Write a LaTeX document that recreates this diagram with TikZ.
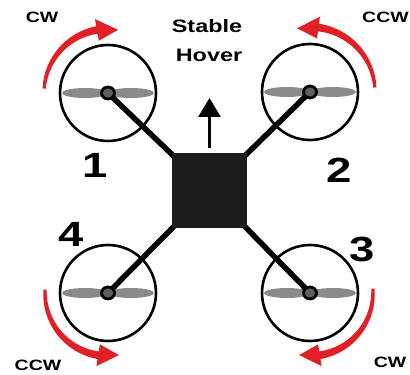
\documentclass[tikz,border=0pt]{standalone}
\usepackage{fontspec}
\setmainfont{Liberation Sans}
\newfontfamily\labelfont{Liberation Sans}[FakeStretch=1.3]
\usetikzlibrary{arrows.meta}

\definecolor{spinred}{RGB}{226,30,38}
\definecolor{bladegray}{RGB}{138,138,138}
\definecolor{hubgray}{RGB}{95,95,95}
\definecolor{bodyblack}{RGB}{30,28,28}

% curved rotation arrow around a rotor: centre x, centre y, radius, start angle, end angle
\newcommand\spinarc[5]{%
  \pgfmathsetmacro\spinsgn{sign(#5-#4)}%
  \fill[spinred]
    plot[domain=#4:#5, samples=40]
      ({#1+(#3+1.6+2.3*(\x-#4)/(#5-#4))*cos(\x)}, {#2+(#3+1.6+2.3*(\x-#4)/(#5-#4))*sin(\x)})
    -- plot[domain=#5:#4, samples=40]
      ({#1+(#3-1.6-2.3*(\x-#4)/(#5-#4))*cos(\x)}, {#2+(#3-1.6-2.3*(\x-#4)/(#5-#4))*sin(\x)})
    -- cycle;
  \pgfmathsetmacro\spintip{#5+\spinsgn*18}%
  \fill[spinred]
    ({#1+(#3+11)*cos(#5-\spinsgn*1)}, {#2+(#3+11)*sin(#5-\spinsgn*1)})
    -- ({#1+#3*cos(\spintip)}, {#2+#3*sin(\spintip)})
    -- ({#1+(#3-11)*cos(#5-\spinsgn*1)}, {#2+(#3-11)*sin(#5-\spinsgn*1)})
    -- cycle;
}

\begin{document}
\begin{tikzpicture}[x=1pt,y=1pt,
  rim/.style={draw=black, line width=2.6pt},
  blade/.style={fill=bladegray},
  arm/.style={draw=black, line width=5.5pt},
  hubring/.style={draw=black, line width=2.8pt, fill=hubgray},
  dirlabel/.style={font=\labelfont\bfseries\fontsize{15}{15}\selectfont, inner sep=0pt},
  numlabel/.style={font=\labelfont\bfseries\fontsize{35}{35}\selectfont, inner sep=0pt},
  titlelabel/.style={font=\labelfont\bfseries\fontsize{18}{18}\selectfont, inner sep=0pt, anchor=base},
  lift/.style={draw=black, line width=3pt, -{Triangle[length=19pt,width=22pt]}}
]
\useasboundingbox[fill=white] (0,0) rectangle (410,375);

% rotor hubs
\coordinate (h1) at (108,282);
\coordinate (h2) at (310,283);
\coordinate (h3) at (310,82);
\coordinate (h4) at (108,82);

% central body (filled after the arms)
\path node[minimum size=75pt, inner sep=0pt] (body) at (209.5,184.5) {};

% rotor guards and propeller blades
\foreach \h in {h1,h2,h3,h4} {
  \draw[rim] (\h) circle (48);
  \begin{scope}[shift={(\h)}]
    \fill[blade] (-23,0) ellipse (23 and 5);
    \fill[blade] (23,0) ellipse (23 and 5);
  \end{scope}
}

% arms
\foreach \h in {h1,h2,h3,h4} \draw[arm] (\h) -- (body.center);

% hubs
\foreach \h in {h1,h2,h3,h4} \draw[hubring] (\h) ellipse (6.5 and 6);

% body
\fill[bodyblack] (body.north west) rectangle (body.south east);

% thrust arrow
\coordinate (up) at (209.5,277);
\draw[lift, shorten <=5pt] (body.north) -- (up);

% rotation arrows
\spinarc{108}{282}{64}{176}{99}
\spinarc{310}{283}{65}{4}{83.5}
\spinarc{108}{82}{63}{177}{262}
\spinarc{310}{82}{63}{4}{-82}

% labels
\node[titlelabel] (stable) at (207,342) {Stable};
\node[titlelabel] (hover) at (209,313) {Hover};

\node[dirlabel] (cw1) at (42,357.5) {CW};
\node[dirlabel, anchor=east] (ccw2) at (409,357.5) {CCW};
\node[dirlabel] (ccw4) at (38,10) {CCW};
\node[dirlabel] (cw3) at (390,13) {CW};

\node[numlabel] (n1) at (95,210) {1};
\node[numlabel] (n2) at (339,205) {2};
\node[numlabel] (n4) at (71,141) {4};
\node[numlabel] (n3) at (362,126) {3};
\end{tikzpicture}
\end{document}
